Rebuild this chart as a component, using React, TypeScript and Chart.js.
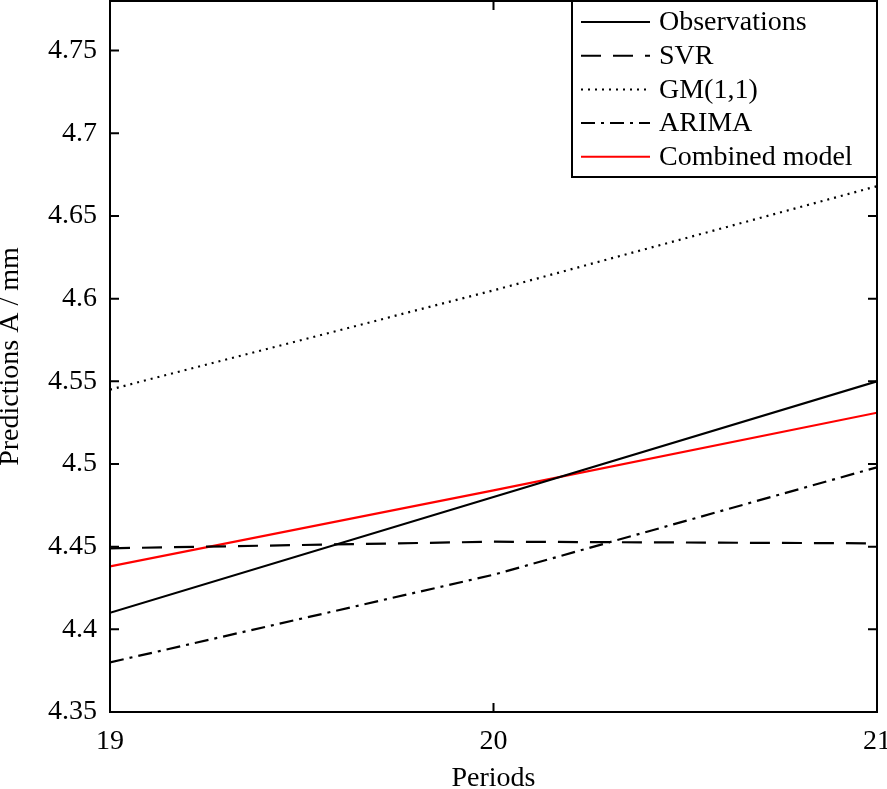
import React, { useEffect, useRef } from "react";
import { Chart, registerables } from "chart.js";

Chart.register(...registerables);

const periods = [19, 20, 21];
const observations = [4.41, 4.48, 4.55];
const svr = [4.449, 4.453, 4.452];
const gm11 = [4.545, 4.605, 4.668];
const arima = [4.38, 4.433, 4.498];
const combined = [4.438, 4.484, 4.531];
const yTicks = [4.35, 4.4, 4.45, 4.5, 4.55, 4.6, 4.65, 4.7, 4.75];
const xTicks = [19, 20, 21];
const yTickLabels = ["4.35", "4.4", "4.45", "4.5", "4.55", "4.6", "4.65", "4.7", "4.75"];

const FONT = "'Liberation Serif', 'DejaVu Serif', serif";

const mk = (label: string, vals: number[], color: string, dash: number[]) => ({
  label,
  data: periods.map((p, i) => ({ x: p, y: vals[i] })),
  borderColor: color,
  backgroundColor: color,
  borderWidth: 2.2,
  borderDash: dash,
  pointRadius: 0,
  tension: 0,
  fill: false,
});

const boxPlugin = {
  id: "boxPlugin",
  afterDraw(chart: any) {
    const { ctx, chartArea } = chart;
    const { left, right, top, bottom } = chartArea;
    const xs = chart.scales.x;
    const ys = chart.scales.y;
    ctx.save();
    ctx.strokeStyle = "#000";
    ctx.lineWidth = 2;
    ctx.setLineDash([]);
    ctx.strokeRect(left, top, right - left, bottom - top);
    const L = 9;
    ctx.beginPath();
    yTicks.forEach((v) => {
      const y = ys.getPixelForValue(v);
      ctx.moveTo(left, y);
      ctx.lineTo(left + L, y);
      ctx.moveTo(right, y);
      ctx.lineTo(right - L, y);
    });
    xTicks.forEach((v) => {
      const x = xs.getPixelForValue(v);
      ctx.moveTo(x, bottom);
      ctx.lineTo(x, bottom - L);
      ctx.moveTo(x, top);
      ctx.lineTo(x, top + L);
    });
    ctx.stroke();

    // legend
    const lx = 572, ly = 1, lw = right - 572, lh = 176;
    ctx.fillStyle = "#fff";
    ctx.fillRect(lx, ly, lw, lh);
    ctx.strokeRect(lx, ly, lw, lh);
    ctx.font = `28px ${FONT}`;
    ctx.textBaseline = "middle";
    ctx.textAlign = "left";
    chart.data.datasets.forEach((ds: any, i: number) => {
      const yy = 22 + i * 33.7;
      ctx.beginPath();
      ctx.strokeStyle = ds.borderColor;
      ctx.lineWidth = 2;
      ctx.setLineDash(ds.borderDash || []);
      ctx.moveTo(581, yy);
      ctx.lineTo(650, yy);
      ctx.stroke();
      ctx.setLineDash([]);
      ctx.fillStyle = "#000";
      ctx.fillText(ds.label, 659, yy + 1);
    });
    ctx.restore();
  },
};

export default function App() {
  const ref = useRef<HTMLCanvasElement>(null);
  useEffect(() => {
    document.body.style.margin = "0";
    const chart = new Chart(ref.current!, {
      type: "line",
      data: {
        datasets: [
          mk("Observations", observations, "#000", []),
          mk("SVR", svr, "#000", [20, 12]),
          mk("GM(1,1)", gm11, "#000", [2, 5]),
          mk("ARIMA", arima, "#000", [14, 6, 3, 6]),
          mk("Combined model", combined, "#ff0000", []),
        ] as any,
      },
      options: {
        animation: false,
        responsive: false,
        maintainAspectRatio: false,
        layout: { padding: { top: 1, right: 10, left: 0, bottom: 0 } },
        plugins: { legend: { display: false }, tooltip: { enabled: false } },
        scales: {
          x: {
            type: "linear",
            min: 19,
            max: 21,
            afterBuildTicks: (axis: any) => {
              axis.ticks = xTicks.map((v) => ({ value: v }));
            },
            afterFit: (axis: any) => {
              axis.height = 77;
              axis.paddingLeft = 0;
              axis.paddingRight = 0;
            },
            grid: { display: false, drawTicks: false },
            border: { display: false },
            ticks: {
              color: "#000",
              font: { family: FONT, size: 28 },
              padding: 13,
              maxRotation: 0,
              callback: (v: any) => String(v),
            },
            title: {
              display: true,
              text: "Periods",
              color: "#000",
              font: { family: FONT, size: 28, lineHeight: 1 },
              padding: { top: 0, bottom: -4 },
            },
          },
          y: {
            type: "linear",
            min: 4.35,
            max: 4.78,
            afterBuildTicks: (axis: any) => {
              axis.ticks = yTicks.map((v) => ({ value: v }));
            },
            afterFit: (axis: any) => {
              axis.width = 110;
              axis.paddingTop = 0;
              axis.paddingBottom = 0;
            },
            grid: { display: false, drawTicks: false },
            border: { display: false },
            ticks: {
              color: "#000",
              font: { family: FONT, size: 28 },
              padding: 13,
              callback: (v: any) => {
                const i = yTicks.findIndex((t) => Math.abs(t - v) < 1e-6);
                return i >= 0 ? yTickLabels[i] : "";
              },
            },
            title: {
              display: true,
              text: "Predictions A / mm",
              color: "#000",
              font: { family: FONT, size: 28, lineHeight: 1 },
              padding: { top: -3, bottom: 0 },
            },
          },
        },
      },
      plugins: [boxPlugin],
    });
    return () => chart.destroy();
  }, []);
  return (
    <div style={{ width: 887, height: 789 }}>
      <canvas ref={ref} width={887} height={789} style={{ display: "block" }} />
    </div>
  );
}
